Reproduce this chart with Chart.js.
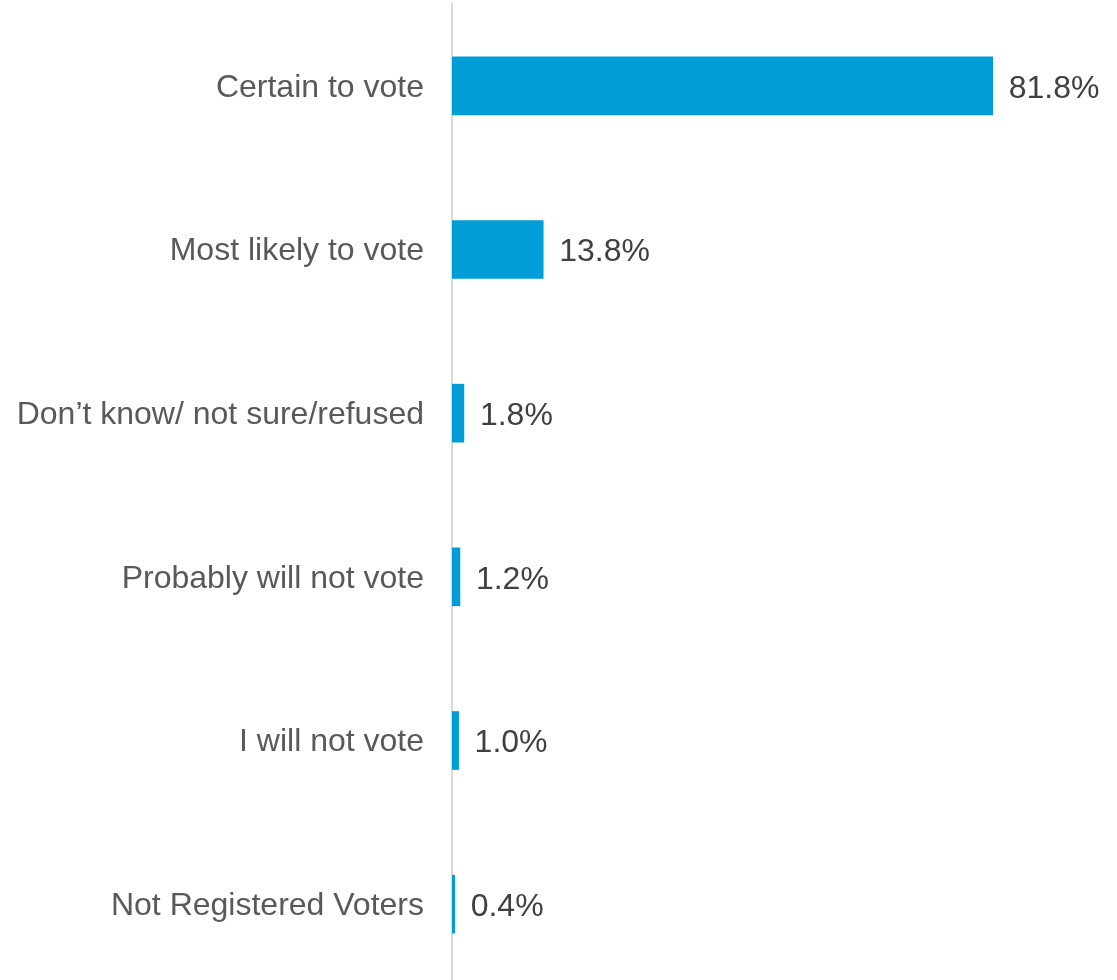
<!DOCTYPE html>
<html>
<head>
<meta charset="utf-8">
<script src="https://cdn.jsdelivr.net/npm/chart.js@4/dist/chart.umd.min.js"></script>
<style>
  html, body { margin: 0; padding: 0; background: #fff; overflow: hidden; }
  .wrap { width: 1117px; height: 986px; position: relative; }
</style>
</head>
<body>
<div class="wrap"><canvas id="voteChart"></canvas></div>
<script>
// ── Data ──
const categories = [
  'Certain to vote',
  'Most likely to vote',
  'Don\u2019t know/ not sure/refused',
  'Probably will not vote',
  'I will not vote',
  'Not Registered Voters'
];
const shares = [81.8, 13.8, 1.8, 1.2, 1.0, 0.4];

const FONT = '"Liberation Sans", Arial, Helvetica, sans-serif';

// ── Value labels at bar ends ──
const valueLabels = {
  id: 'valueLabels',
  afterDatasetsDraw(chart) {
    const { ctx } = chart;
    const meta = chart.getDatasetMeta(0);
    ctx.save();
    ctx.font = '32px ' + FONT;
    ctx.fillStyle = '#404040';
    ctx.textAlign = 'left';
    ctx.textBaseline = 'middle';
    meta.data.forEach((bar, i) => {
      ctx.fillText(shares[i].toFixed(1) + '%', bar.x + 16, bar.y + 3);
    });
    ctx.restore();
  }
};

// ── Chart ──
const ctx = document.getElementById('voteChart').getContext('2d');
new Chart(ctx, {
  type: 'bar',
  data: {
    labels: categories,
    datasets: [{
      data: shares,
      backgroundColor: '#009dd6',
      borderWidth: 0,
      barThickness: 58
    }]
  },
  options: {
    indexAxis: 'y',
    responsive: true,
    maintainAspectRatio: false,
    animation: false,
    layout: { padding: { top: 4, right: 4, bottom: 0, left: 0 } },
    plugins: {
      legend: { display: false },
      tooltip: { enabled: false }
    },
    scales: {
      x: { display: false, min: 0, max: 100 },
      y: {
        afterFit: scale => {
          scale.width = 452;
          scale.paddingTop = 0;
          scale.paddingBottom = 0;
        },
        grid: { display: false, drawTicks: false },
        border: { display: true, color: '#d9d9d9', width: 2 },
        ticks: {
          padding: 28,
          labelOffset: 2,
          color: '#595959',
          font: { family: FONT, size: 32 }
        }
      }
    }
  },
  plugins: [valueLabels]
});
</script>
</body>
</html>
